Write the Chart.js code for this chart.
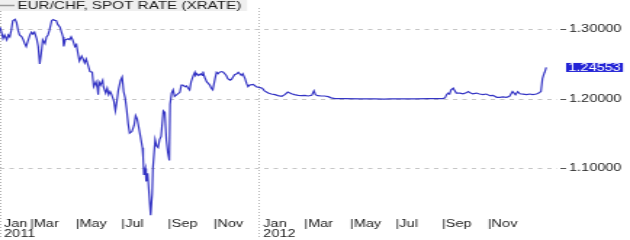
<!DOCTYPE html>
<html>
<head>
<meta charset="utf-8">
<script src="https://cdn.jsdelivr.net/npm/chart.js@4"></script>
<style>
  html, body { margin: 0; padding: 0; background: #fff; }
  #rateChart { display: block; }
</style>
</head>
<body>
<canvas id="rateChart" width="434" height="240" style="width:630px;height:240px"></canvas>
<script>
// days counted from 1 Jan 2011
const days = [
  19, 21, 23, 25, 28, 30, 32, 34, 36, 39,
  41, 43, 45, 48, 50, 52, 54, 56, 59, 61,
  63, 65, 68, 70, 72, 74, 76, 79, 81, 83,
  85, 88, 90, 92, 94, 96, 99, 101, 103, 104,
  106, 110, 112, 114, 116, 119, 121, 123, 125, 128,
  130, 132, 134, 136, 139, 142, 144, 147, 149, 150,
  151, 153, 156, 157, 160, 162, 164, 166, 168, 171,
  173, 175, 177, 180, 182, 184, 186, 188, 190, 192,
  195, 198, 200, 202, 204, 206, 209, 210, 211, 213,
  214, 216, 218, 220, 222, 223, 226, 228, 230, 232,
  234, 237, 239, 241, 243, 245, 246, 248, 250, 252,
  255, 259, 261, 263, 266, 268, 270, 272, 274, 277,
  279, 280, 282, 284, 287, 289, 290, 292, 295, 297,
  299, 301, 303, 306, 308, 310, 312, 315, 317, 319,
  321, 323, 326, 328, 330, 332, 335, 337, 339, 341,
  343, 346, 348, 350, 352, 357, 361, 366, 369, 372,
  377, 381, 386, 390, 395, 399, 403, 408, 412, 417,
  421, 426, 430, 435, 438, 440, 443, 448, 452, 457,
  461, 466, 479, 499, 519, 532, 539, 552, 572, 592,
  610, 613, 615, 617, 619, 621, 624, 626, 628, 633,
  637, 642, 644, 647, 650, 655, 659, 664, 668, 673,
  677, 682, 686, 690, 695, 699, 703, 705, 707, 710,
  713, 717, 722, 726, 730, 735, 738, 741, 743, 745,
  746, 748
];

const rates = [
  1.3035, 1.2965, 1.2872, 1.2924, 1.2854, 1.2924, 1.2896, 1.2993, 1.3128, 1.3150,
  1.3104, 1.2993, 1.2924, 1.2896, 1.2854, 1.2799, 1.2757, 1.2826, 1.2924, 1.2965,
  1.2938, 1.2965, 1.2868, 1.2757, 1.2507, 1.2660, 1.2854, 1.2799, 1.2896, 1.2924,
  1.2993, 1.3132, 1.3146, 1.3132, 1.3132, 1.3076, 1.3035, 1.2965, 1.2896, 1.2757,
  1.2854, 1.2868, 1.2854, 1.2896, 1.2854, 1.2757, 1.2785, 1.2660, 1.2549, 1.2618,
  1.2576, 1.2521, 1.2576, 1.2507, 1.2396, 1.2386, 1.2178, 1.2247, 1.2156, 1.2063,
  1.2247, 1.2201, 1.2271, 1.2178, 1.2086, 1.2156, 1.2063, 1.2108, 1.2063, 1.1969,
  1.1831, 1.1969, 1.2132, 1.2271, 1.2317, 1.2108, 1.2017, 1.1854, 1.1646, 1.1507,
  1.1531, 1.1622, 1.1761, 1.1715, 1.1600, 1.1483, 1.1299, 1.1160, 1.0906, 1.0997,
  1.0813, 1.0928, 1.0628, 1.0326, 1.0628, 1.0997, 1.1414, 1.1322, 1.1299, 1.1414,
  1.1461, 1.1831, 1.1808, 1.1414, 1.1229, 1.1114, 1.1924, 1.2086, 1.2132, 1.2039,
  1.2063, 1.2097, 1.2201, 1.2201, 1.2178, 1.2188, 1.2156, 1.2132, 1.2247, 1.2340,
  1.2386, 1.2340, 1.2364, 1.2340, 1.2364, 1.2340, 1.2396, 1.2317, 1.2247, 1.2225,
  1.2201, 1.2156, 1.2132, 1.2294, 1.2386, 1.2364, 1.2386, 1.2396, 1.2386, 1.2364,
  1.2340, 1.2294, 1.2271, 1.2285, 1.2317, 1.2350, 1.2364, 1.2386, 1.2364, 1.2340,
  1.2364, 1.2294, 1.2225, 1.2178, 1.2201, 1.2211, 1.2178, 1.2164, 1.2156, 1.2118,
  1.2086, 1.2072, 1.2063, 1.2049, 1.2039, 1.2063, 1.2100, 1.2076, 1.2063, 1.2053,
  1.2049, 1.2053, 1.2044, 1.2053, 1.2118, 1.2063, 1.2049, 1.2044, 1.2044, 1.2035,
  1.2017, 1.2007, 1.2005, 1.2003, 1.2003, 1.1998, 1.2003, 1.2003, 1.2003, 1.2005,
  1.2007, 1.2017, 1.2063, 1.2086, 1.2072, 1.2132, 1.2156, 1.2118, 1.2086, 1.2086,
  1.2076, 1.2094, 1.2108, 1.2086, 1.2076, 1.2086, 1.2072, 1.2063, 1.2072, 1.2049,
  1.2053, 1.2025, 1.2025, 1.2031, 1.2025, 1.2039, 1.2108, 1.2086, 1.2063, 1.2108,
  1.2076, 1.2072, 1.2063, 1.2072, 1.2063, 1.2072, 1.2086, 1.2108, 1.2294, 1.2364,
  1.2386, 1.24553
];

const tickDays = [19, 59, 120, 181, 243, 304, 365, 425, 486, 547, 609, 670];
const tickLabels = [
  [' Jan', ' 2011'], '|Mar', '|May', '|Jul', '|Sep', '|Nov',
  [' Jan', ' 2012'], '|Mar', '|May', '|Jul', '|Sep', '|Nov'
];
const yearDays = [19, 365];
const yTicks = [1.1, 1.2, 1.3];
const seriesName = 'EUR/CHF, SPOT RATE (XRATE)';

const FONT = 'Liberation Sans, Arial, sans-serif';
const LINE = '#3535c4';

// legend box drawn over the top-left of the plot
const legendPlugin = {
  id: 'legendBox',
  afterDraw(chart) {
    const ctx = chart.ctx;
    ctx.save();
    ctx.font = `10.5px ${FONT}`;
    const w = ctx.measureText(seriesName).width;
    ctx.fillStyle = '#efefef';
    ctx.fillRect(0, 0, w + 16, 11);
    ctx.strokeStyle = '#9a9a9a';
    ctx.lineWidth = 1.5;
    ctx.beginPath();
    ctx.moveTo(0, 5.5);
    ctx.lineTo(10, 5.5);
    ctx.stroke();
    ctx.fillStyle = '#1a1a1a';
    ctx.textBaseline = 'middle';
    ctx.fillText(seriesName, 12, 6);
    ctx.restore();
  }
};

// last value tag on the right axis
const lastValuePlugin = {
  id: 'lastValue',
  afterDraw(chart) {
    const ctx = chart.ctx;
    const last = rates[rates.length - 1];
    const y = chart.scales.y.getPixelForValue(last);
    const x = chart.chartArea.right + 6;
    ctx.save();
    ctx.font = `10px ${FONT}`;
    const text = last.toFixed(5);
    const w = ctx.measureText(text).width;
    ctx.fillStyle = '#2323d6';
    ctx.fillRect(x, y - 4.5, w + 3, 9);
    ctx.fillStyle = '#fff';
    ctx.textBaseline = 'middle';
    ctx.fillText(text, x + 1.5, y + 0.5);
    ctx.restore();
  }
};

new Chart(document.getElementById('rateChart'), {
  type: 'line',
  data: {
    datasets: [{
      label: seriesName,
      data: days.map((d, i) => ({ x: d, y: rates[i] })),
      borderColor: LINE,
      borderWidth: 1.2,
      pointRadius: 0,
      tension: 0,
      fill: false
    }]
  },
  options: {
    responsive: false,
    devicePixelRatio: 1,
    animation: false,
    layout: { padding: 0 },
    plugins: {
      legend: { display: false },
      tooltip: { enabled: false }
    },
    scales: {
      x: {
        type: 'linear',
        min: 19,
        max: 763,
        afterBuildTicks: s => { s.ticks = tickDays.map(v => ({ value: v })); },
        afterFit: s => { s.height = 22; },
        ticks: {
          autoSkip: false,
          maxRotation: 0,
          align: 'start',
          padding: -17,
          color: '#222',
          font: { family: FONT, size: 10, lineHeight: 0.92 },
          callback: (v, i) => tickLabels[i]
        },
        grid: {
          color: c => (c.tick && yearDays.includes(c.tick.value)) ? '#b5b5b5' : 'rgba(0,0,0,0)',
          lineWidth: 1,
          drawTicks: true,
          tickLength: 19,
          tickColor: c => (c.tick && yearDays.includes(c.tick.value)) ? '#b5b5b5' : 'rgba(0,0,0,0)',
          tickBorderDash: [1, 2]
        },
        border: { display: false, dash: [1, 2] }
      },
      y: {
        position: 'right',
        min: 1.0285,
        max: 1.33125,
        afterBuildTicks: s => { s.ticks = yTicks.map(v => ({ value: v })); },
        afterFit: s => { s.width = 50; },
        ticks: {
          padding: 2,
          color: '#222',
          font: { family: FONT, size: 10 },
          callback: v => Number(v).toFixed(5)
        },
        grid: {
          color: '#c6c6c6',
          lineWidth: 1,
          tickLength: 6,
          tickColor: '#555',
          tickBorderDash: [0, 2, 4, 20]
        },
        border: { display: false, dash: [3, 3.5] }
      }
    }
  },
  plugins: [legendPlugin, lastValuePlugin]
});
</script>
</body>
</html>
